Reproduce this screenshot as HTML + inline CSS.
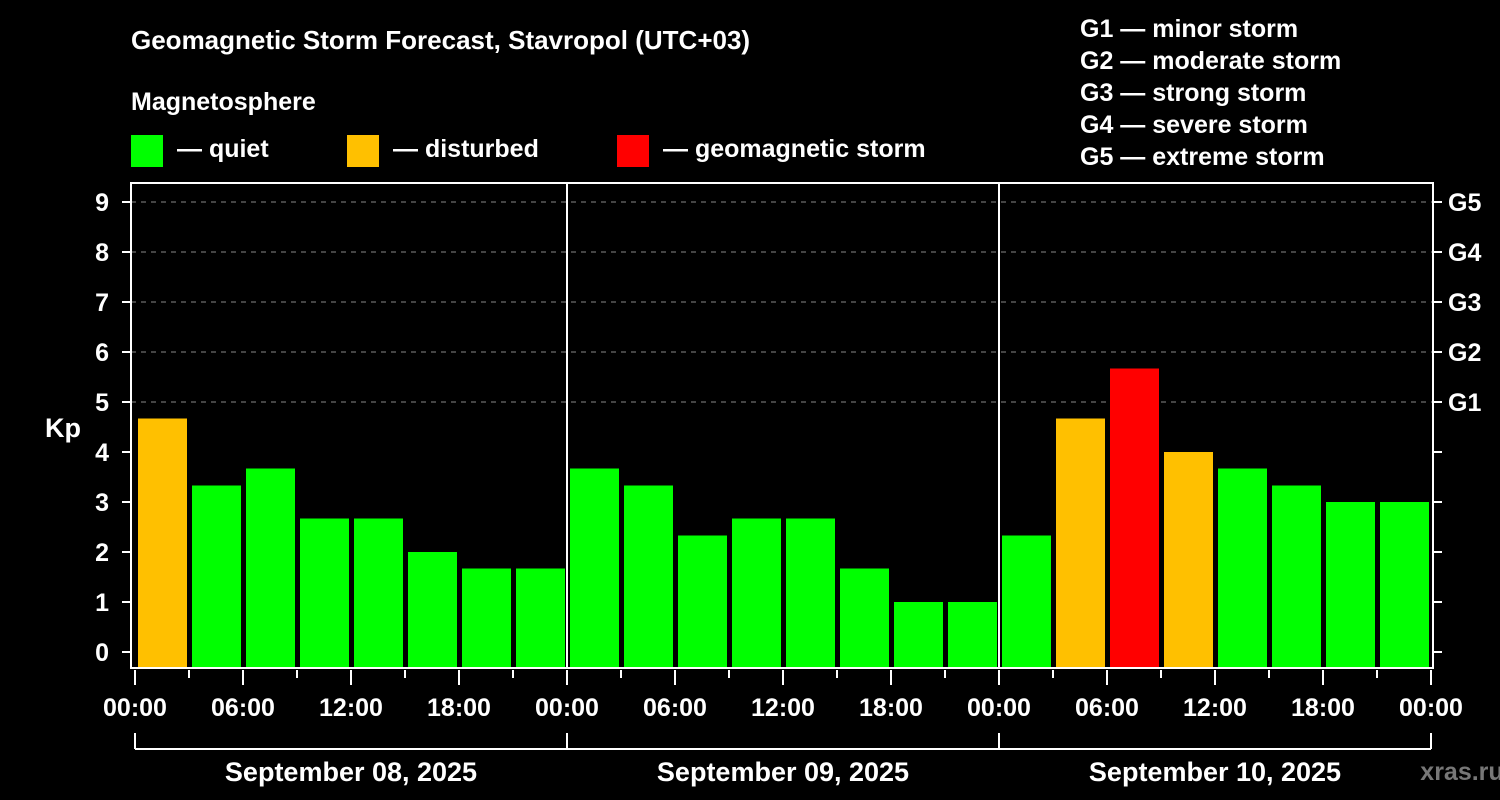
<!DOCTYPE html>
<html><head><meta charset="utf-8"><style>
html,body{margin:0;padding:0;background:#000;}
svg{display:block;font-family:"Liberation Sans",Arial,sans-serif;font-weight:bold;}
</style></head><body>
<svg id="c" width="1500" height="800" viewBox="0 0 1500 800">
<rect width="1500" height="800" fill="#000"/>
<text x="131" y="49" fill="#fff" font-size="26">Geomagnetic Storm Forecast, Stavropol (UTC+03)</text>
<text x="131" y="110" fill="#fff" font-size="25">Magnetosphere</text>
<g><rect x="131" y="135" width="32" height="32" fill="#00ff00"/><text x="177" y="157" fill="#fff" font-size="25">— quiet</text></g>
<g><rect x="347" y="135" width="32" height="32" fill="#ffc000"/><text x="393" y="157" fill="#fff" font-size="25">— disturbed</text></g>
<g><rect x="617" y="135" width="32" height="32" fill="#ff0000"/><text x="663" y="157" fill="#fff" font-size="25">— geomagnetic storm</text></g>
<g fill="#fff" font-size="25">
<text x="1080" y="37">G1 — minor storm</text>
<text x="1080" y="69">G2 — moderate storm</text>
<text x="1080" y="101">G3 — strong storm</text>
<text x="1080" y="133">G4 — severe storm</text>
<text x="1080" y="165">G5 — extreme storm</text>
</g>
<text x="63" y="437" fill="#fff" font-size="27" text-anchor="middle">Kp</text>
<text x="1462" y="780" fill="#777" font-size="25" text-anchor="middle">xras.ru</text>
<g id="plot"></g>
</svg>
<script>
const days = ["September 08, 2025","September 09, 2025","September 10, 2025"];
const kpValues = [4.67,3.33,3.67,2.67,2.67,2.0,1.67,1.67,
                  3.67,3.33,2.33,2.67,2.67,1.67,1.0,1.0,
                  2.33,4.67,5.67,4.0,3.67,3.33,3.0,3.0];
const yTicks = [0,1,2,3,4,5,6,7,8,9];
const gLabels = ["G1","G2","G3","G4","G5"];
const xTickLabels = ["00:00","06:00","12:00","18:00"];

const NS="http://www.w3.org/2000/svg";
const g=document.getElementById('plot');
const x0=135, dayW=432, slotW=54;
const L=131,R=1433,T=183,B=668;
const y=v=>652-v*50;
const x=slot=>x0+slot*slotW;
function mk(t,a,txt){const e=document.createElementNS(NS,t);for(const k in a)e.setAttribute(k,a[k]);if(txt!==undefined)e.textContent=txt;g.appendChild(e);return e;}
// grid
yTicks.forEach(v=>{
  if(v>=5){const e=mk('line',{x1:L,x2:R,y1:y(v),y2:y(v),stroke:'#888','stroke-width':1,'stroke-dasharray':'5,5'});
  
  }
  const t=mk('line',{x1:L-9,x2:L,y1:y(v),y2:y(v),stroke:'#fff','stroke-width':2});
  
  
  const t2=mk('line',{x1:R,x2:R+9,y1:y(v),y2:y(v),stroke:'#fff','stroke-width':2});
  
  
  const l=mk('text',{x:L-22,y:y(v)+9,fill:'#fff','font-size':25,'text-anchor':'end'},String(v));
  
  
});
gLabels.forEach((s,i)=>{
  const l=mk('text',{x:R+15,y:y(5+i)+9,fill:'#fff','font-size':25},s);
  
  
});
// bars
kpValues.forEach((v,i)=>{
  const c=v>=5?'#ff0000':(v>=4?'#ffc000':'#00ff00');
  const b=mk('rect',{x:x(i)+3,y:y(v),width:slotW-5,height:B-y(v),fill:c});
  
  
});
// frame
const f=mk('rect',{x:L,y:T,width:R-L,height:B-T,fill:'none',stroke:'#fff','stroke-width':2});


for(let d=1;d<days.length;d++){
  const e=mk('line',{x1:x0+d*dayW,x2:x0+d*dayW,y1:T,y2:B,stroke:'#fff','stroke-width':2});
  
  
}
// x ticks
for(let s=0;s<=kpValues.length;s++){
  const major=s%2===0;
  const e=mk('line',{x1:x(s),x2:x(s),y1:B+2,y2:major?B+17:B+10,stroke:'#fff','stroke-width':2});
  
  
  if(major){
    const lab=xTickLabels[(s/2)%4];
    const t=mk('text',{x:x(s),y:716,fill:'#fff','font-size':25,'text-anchor':'middle'},lab);
    
    
  }
}
// date bracket
const br=mk('line',{x1:x0,x2:x0+days.length*dayW,y1:749,y2:749,stroke:'#fff','stroke-width':2});


for(let d=0;d<=days.length;d++){
  const e=mk('line',{x1:x0+d*dayW,x2:x0+d*dayW,y1:733,y2:749,stroke:'#fff','stroke-width':2});
  
  
}
days.forEach((s,d)=>{
  const t=mk('text',{x:x0+d*dayW+dayW/2,y:781,fill:'#fff','font-size':27,'text-anchor':'middle'},s);
  
  
});
</script>
</body></html>
